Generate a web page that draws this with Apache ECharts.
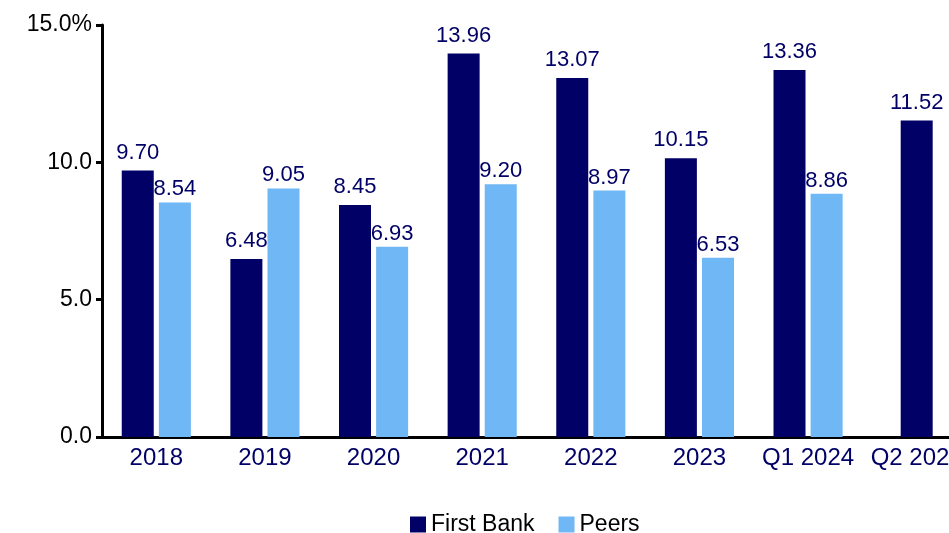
<!DOCTYPE html>
<html>
<head>
<meta charset="utf-8">
<script src="https://cdn.jsdelivr.net/npm/echarts@6/dist/echarts.min.js"></script>
<style>
  html, body { margin: 0; padding: 0; background: #fff; overflow: hidden; }
  /* the plot runs on past the right edge of the page */
  #chart { width: 971px; height: 533px; }
</style>
</head>
<body>
<div id="chart"></div>
<script>
// Return on equity, First Bank vs. peers
const categories = ['2018', '2019', '2020', '2021', '2022', '2023', 'Q1 2024', 'Q2 2024'];
const firstBank = [9.70, 6.48, 8.45, 13.96, 13.07, 10.15, 13.36, null];
const peers = [8.54, 9.05, 6.93, 9.20, 8.97, 6.53, 8.86, null];
// Latest quarter has no peer figure yet, so its bar sits centred in its slot
const firstBankLatest = [null, null, null, null, null, null, null, 11.52];
const yTicks = ['0.0', '5.0', '10.0', '15.0%'];

const NAVY = '#000066';
const SKY = '#6FB7F5';
const FONT = '"Liberation Sans", Arial, sans-serif';

const chart = echarts.init(document.getElementById('chart'), null, { renderer: 'canvas' });

const valueLabel = (dist) => ({
  show: true,
  position: 'top',
  distance: dist,
  color: NAVY,
  fontFamily: FONT,
  fontSize: 22,
  formatter: p => p.value == null ? '' : Number(p.value).toFixed(2)
});

chart.setOption({
  animation: false,
  textStyle: { fontFamily: FONT },
  grid: { left: 102, top: 25, right: 0, bottom: 96, containLabel: false },
  legend: {
    left: 405,
    top: 508,
    itemWidth: 16,
    itemHeight: 16,
    itemGap: 24,
    icon: 'rect',
    textStyle: { color: '#000', fontSize: 23, fontFamily: FONT },
    data: ['First Bank', 'Peers']
  },
  xAxis: [
    {
      type: 'category',
      data: categories,
      axisLine: { lineStyle: { color: '#000', width: 3 } },
      axisTick: { show: false },
      axisLabel: { color: NAVY, fontSize: 24, fontFamily: FONT, margin: 9, interval: 0 }
    },
    {
      type: 'category',
      data: categories,
      show: false,
      position: 'bottom'
    }
  ],
  yAxis: {
    type: 'value',
    min: 0,
    max: 15,
    interval: 5,
    splitLine: { show: false },
    axisLine: { show: true, lineStyle: { color: '#000', width: 3 } },
    axisTick: { show: true, length: 6, lineStyle: { color: '#000', width: 3 } },
    axisLabel: {
      color: '#000',
      fontSize: 23,
      fontFamily: FONT,
      margin: 10,
      formatter: v => yTicks[Math.round(v / 5)]
    }
  },
  series: [
    {
      name: 'First Bank',
      type: 'bar',
      xAxisIndex: 0,
      data: firstBank,
      barWidth: 32,
      barGap: '16%',
      itemStyle: { color: NAVY },
      label: valueLabel(7)
    },
    {
      name: 'Peers',
      type: 'bar',
      xAxisIndex: 0,
      data: peers,
      barWidth: 32,
      itemStyle: { color: SKY },
      label: valueLabel(2)
    },
    {
      name: 'First Bank',
      type: 'bar',
      xAxisIndex: 1,
      data: firstBankLatest,
      barWidth: 32,
      itemStyle: { color: NAVY },
      label: valueLabel(7)
    }
  ]
});
</script>
</body>
</html>
